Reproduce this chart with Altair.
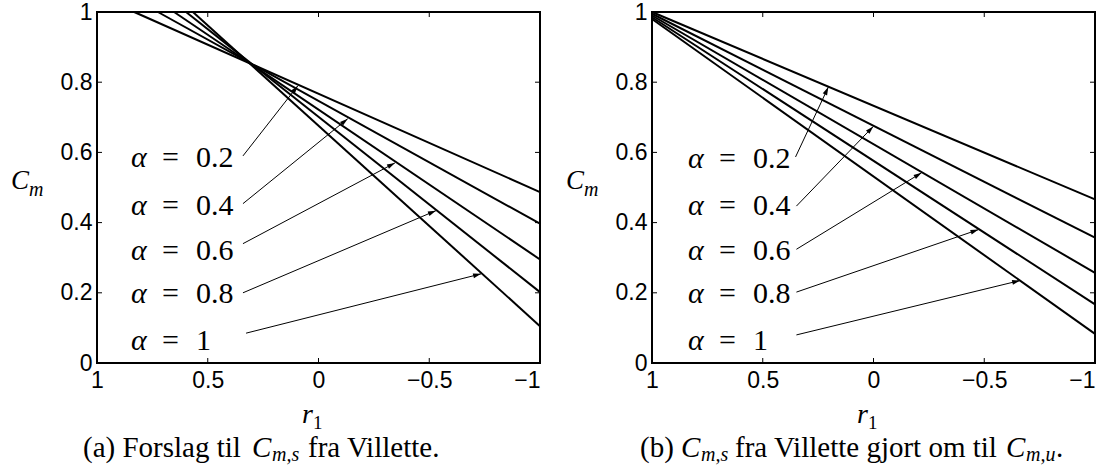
import math
import altair as alt
import pandas as pd

W, H = 443, 351

alpha_text = ["0.2", "0.4", "0.6", "0.8", "1"]

# (a) Villette's proposal for C_m,s: each line leaves Cm = 1 at r1 = a_r_top and ends at r1 = -1
a_r_top = [0.832, 0.725, 0.652, 0.598, 0.567]
a_cm_top = [1.0, 1.0, 1.0, 1.0, 1.0]
a_r_end = [-1.0, -1.0, -1.0, -1.0, -1.0]
a_cm_end = [0.487, 0.397, 0.295, 0.202, 0.105]

a_lab_r = [0.846, 0.846, 0.846, 0.846, 0.846]
a_lab_cm = [0.584, 0.447, 0.319, 0.197, 0.063]
a_arr_r = [0.341, 0.341, 0.341, 0.341, 0.327]
a_arr_cm = [0.590, 0.454, 0.340, 0.200, 0.085]
a_tip_r = [0.093, -0.132, -0.345, -0.530, -0.734]
a_tip_cm = [0.790, 0.696, 0.570, 0.434, 0.254]

# (b) the same proposal rewritten as C_m,u
b_r_start = [1.0, 1.0, 1.0, 1.0, 1.0]
b_cm_start = [1.0, 0.995, 0.99, 0.985, 0.98]
b_r_end = [-1.0, -1.0, -1.0, -1.0, -1.0]
b_cm_end = [0.466, 0.357, 0.257, 0.167, 0.083]

b_lab_r = [0.838, 0.838, 0.838, 0.838, 0.838]
b_lab_cm = [0.581, 0.447, 0.319, 0.197, 0.063]
b_arr_r = [0.352, 0.348, 0.348, 0.348, 0.348]
b_arr_cm = [0.587, 0.447, 0.324, 0.202, 0.080]
b_tip_r = [0.204, 0.001, -0.217, -0.474, -0.662]
b_tip_cm = [0.786, 0.674, 0.542, 0.380, 0.235]

x_ticks = [1, 0.5, 0, -0.5, -1]
y_ticks = [0, 0.2, 0.4, 0.6, 0.8, 1]
x_inner = [0.5, 0, -0.5]
y_inner = [0.2, 0.4, 0.6, 0.8]

SERIF = "Liberation Serif"
SANS = "Liberation Sans"
ARROW = "M0,0L0.3,1L-0.3,1Z"

xs = alt.Scale(domain=[-1, 1], reverse=True, nice=False, zero=False)
ys = alt.Scale(domain=[0, 1], nice=False, zero=False)

x_axis = alt.Axis(
    values=x_ticks, format="~g", title=None, grid=False, ticks=False, tickSize=0,
    domain=False, labelFont=SANS, labelFontSize=23, labelColor="black",
    labelPadding=6, labelOverlap=False, labelFlush=False,
    labelAlign={"condition": {"test": "datum.value === -1", "value": "right"}, "value": "center"},
)
y_axis = alt.Axis(
    values=y_ticks, format="~g", title=None, grid=False, ticks=False, tickSize=0,
    domain=False, labelFont=SANS, labelFontSize=23, labelColor="black",
    labelPadding=5, labelOverlap=False, labelFlush=False,
)


def X():
    return alt.X("r:Q", scale=xs, axis=x_axis)


def Y():
    return alt.Y("cm:Q", scale=ys, axis=y_axis)


def text_piece(s, px, py, size, style="normal", align="left"):
    return alt.Chart(pd.DataFrame({"t": [s]})).mark_text(
        font=SERIF, fontSize=size, fontStyle=style, align=align,
        baseline="alphabetic", color="black",
    ).encode(x=alt.value(px), y=alt.value(py), text="t:N")


def panel(r0, c0, r1, c1, lab_r, lab_cm, arr_r, arr_cm, tip_r, tip_cm, caption):
    lines = pd.DataFrame({
        "r": r0 + r1, "cm": c0 + c1, "a": alpha_text + alpha_text,
    })
    labels = pd.DataFrame({"r": lab_r, "cm": lab_cm, "sym": ["α"] * 5,
                           "eq": ["="] * 5, "val": alpha_text})
    arrows = pd.DataFrame({"r": arr_r, "cm": arr_cm, "r2": tip_r, "cm2": tip_cm})
    angs = []
    for ra, ca, rt, ct in zip(arr_r, arr_cm, tip_r, tip_cm):
        dx = -(rt - ra) * W / 2
        dy = -(ct - ca) * H
        angs.append(math.degrees(math.atan2(dx, -dy)) % 360)
    tips = pd.DataFrame({"r": tip_r, "cm": tip_cm, "ang": angs})

    layers = []
    layers.append(alt.Chart(lines).mark_line(color="black", strokeWidth=2).encode(
        x=X(), y=Y(), detail="a:N"))

    # inward tick marks on all four sides of the box
    xt = pd.DataFrame({"r": x_inner})
    yt = pd.DataFrame({"cm": y_inner})
    layers.append(alt.Chart(xt).mark_rule(color="black", strokeWidth=1).encode(
        x=X(), y=alt.value(H), y2=alt.value(H - 5)))
    layers.append(alt.Chart(xt).mark_rule(color="black", strokeWidth=1).encode(
        x=X(), y=alt.value(0), y2=alt.value(5)))
    layers.append(alt.Chart(yt).mark_rule(color="black", strokeWidth=1).encode(
        y=Y(), x=alt.value(0), x2=alt.value(5)))
    layers.append(alt.Chart(yt).mark_rule(color="black", strokeWidth=1).encode(
        y=Y(), x=alt.value(W), x2=alt.value(W - 5)))

    # arrows from each label to its line
    layers.append(alt.Chart(arrows).mark_rule(color="black", strokeWidth=1).encode(
        x=X(), y=Y(), x2="r2:Q", y2="cm2:Q"))
    layers.append(alt.Chart(tips).mark_point(
        shape=ARROW, filled=True, size=256, color="black", opacity=1, strokeWidth=0
    ).encode(x=X(), y=Y(), angle=alt.Angle("ang:Q", scale=None)))

    layers.append(alt.Chart(labels).mark_text(
        font=SERIF, fontSize=30, fontStyle="italic", align="left", baseline="middle",
        color="black").encode(x=X(), y=Y(), text="sym:N"))
    layers.append(alt.Chart(labels).mark_text(
        font=SERIF, fontSize=30, align="left", baseline="middle", dx=31,
        color="black").encode(x=X(), y=Y(), text="eq:N"))
    layers.append(alt.Chart(labels).mark_text(
        font=SERIF, fontSize=30, align="left", baseline="middle", dx=65,
        color="black").encode(x=X(), y=Y(), text="val:N"))

    # axis titles C_m and r_1
    layers.append(text_piece("C", -86, 177, 27, "italic"))
    layers.append(text_piece("m", -68, 184, 20, "italic"))
    layers.append(text_piece("r", 205, 411, 28, "italic"))
    layers.append(text_piece("1", 216, 417, 19))

    for s, px, size, style, sub in caption:
        layers.append(text_piece(s, px, 445 + (4 if sub else 0), size, style))

    return alt.layer(*layers).properties(width=W, height=H)


cap_a = [
    ("(a) Forslag til", -14, 29, "normal", False),
    ("C", 155, 29, "italic", False),
    ("m,s", 175, 20, "italic", True),
    ("fra Villette.", 211, 29, "normal", False),
]
cap_b = [
    ("(b)", -12, 29, "normal", False),
    ("C", 29, 29, "italic", False),
    ("m,s", 49, 20, "italic", True),
    ("fra Villette gjort om til", 83, 29, "normal", False),
    ("C", 354, 29, "italic", False),
    ("m,u", 374, 20, "italic", True),
    (".", 404, 29, "normal", False),
]

pa = panel(a_r_top, a_cm_top, a_r_end, a_cm_end, a_lab_r, a_lab_cm,
           a_arr_r, a_arr_cm, a_tip_r, a_tip_cm, cap_a)
pb = panel(b_r_start, b_cm_start, b_r_end, b_cm_end, b_lab_r, b_lab_cm,
           b_arr_r, b_arr_cm, b_tip_r, b_tip_cm, cap_b)

chart = alt.hconcat(pa, pb, spacing=112, bounds="flush").properties(
    padding={"left": 10, "top": 0, "right": 0, "bottom": 0},
    background="white",
).configure_view(stroke="black", strokeWidth=2)

chart.save("out.html", embed_options={"renderer": "svg", "actions": False})
